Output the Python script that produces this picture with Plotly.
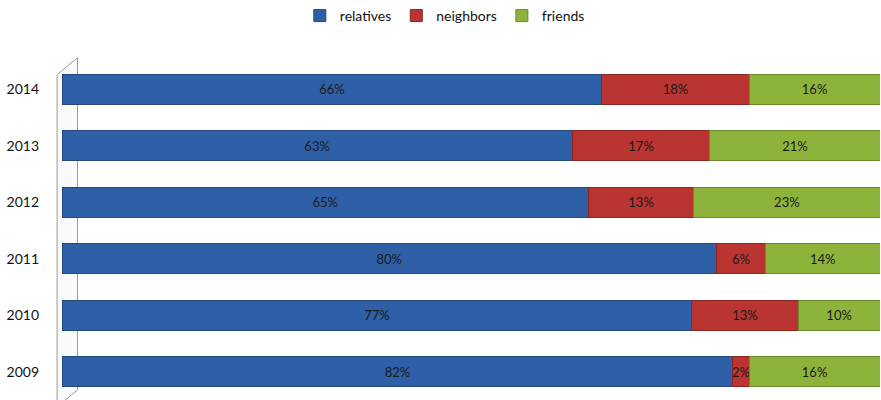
import plotly.graph_objects as go

years = ["2009", "2010", "2011", "2012", "2013", "2014"]
relatives = [82, 77, 80, 65, 63, 66]
neighbors = [2, 13, 6, 13, 17, 18]
friends = [16, 10, 14, 23, 21, 16]

series = [
    ("relatives", relatives, "#2F5FA6", "#23487F"),
    ("neighbors", neighbors, "#BA3432", "#8C2422"),
    ("friends", friends, "#8EB33B", "#6A8A2A"),
]

fig = go.Figure()
for name, vals, color, edge in series:
    fig.add_trace(go.Bar(
        y=years, x=vals, name=name, orientation="h",
        marker=dict(color=color, line=dict(color=edge, width=1)),
        text=[f"{v}%" for v in vals], textposition="inside",
        insidetextanchor="middle", textangle=0,
        textfont=dict(color="#1a1a1a", size=13, family="Lato"),
        hoverinfo="skip",
    ))

# 3D-style wall outline on the left
fig.add_shape(type="path", xref="paper", yref="paper",
              path="M -0.006 -0.02 L -0.006 0.96 L 0.019 1.01 L 0.019 0.03 Z",
              line=dict(color="#9a9a9a", width=1), fillcolor="rgba(240,240,240,0.4)",
              layer="below")

fig.update_layout(
    width=881, height=400,
    barmode="stack", barnorm="percent", bargap=0.47,
    margin=dict(l=62, r=1, t=61, b=0, autoexpand=False),
    paper_bgcolor="white", plot_bgcolor="white",
    font=dict(family="Lato", size=12, color="#222"),
    uniformtext=dict(minsize=13, mode="show"),
    legend=dict(orientation="h", x=0.468, xanchor="center", y=1.0, yref="container",
                yanchor="top", font=dict(size=14, color="#111"), traceorder="normal",
                itemwidth=30),
    xaxis=dict(range=[0, 100], visible=False, fixedrange=True),
    yaxis=dict(showgrid=False, zeroline=False, ticks="", showline=False,
               automargin=False,
               tickfont=dict(size=14, family="Lato", color="#111"),
               ticklabelstandoff=22),
    showlegend=True,
)

fig.write_html("out.html", config={"displayModeBar": False},
               post_script="document.body.style.margin='0';document.body.style.overflow='hidden';")
